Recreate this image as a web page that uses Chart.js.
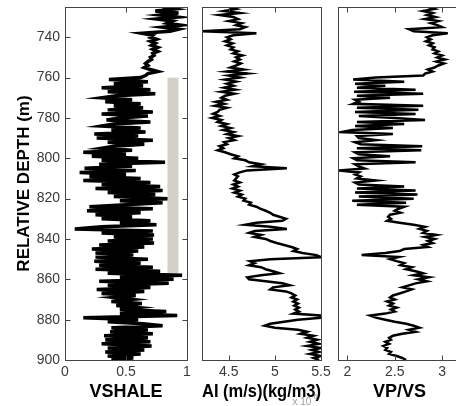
<!DOCTYPE html>
<html><head><meta charset="utf-8">
<script src="https://cdn.jsdelivr.net/npm/chart.js@4"></script>
<style>
html,body{margin:0;padding:0;background:#fff;width:456px;height:406px;overflow:hidden;}
canvas{position:absolute;left:0;top:0;}
</style></head><body>
<canvas id="c1" width="470" height="406"></canvas>
<canvas id="c2" width="470" height="406"></canvas>
<canvas id="c3" width="470" height="406"></canvas>
<script>
// ---- data ----
const DEPTH_TICKS = [740, 760, 780, 800, 820, 840, 860, 880, 900];
const VSHALE_TICKS = [0, 0.5, 1];
const AI_TICKS = [4.5, 5, 5.5];
const VPVS_TICKS = [2, 2.5, 3];
// sampling depths (m), 1 m step from 725 to 900
const DEPTHS = Array.from({length: 176}, (_, i) => 725 + i);

const VSHALE = [
  0.80,0.90,0.74,0.93,0.78,0.92,0.75,0.88,0.84,0.95,
  0.80,0.93,0.86,0.63,0.72,0.70,0.75,0.70,0.74,0.71,
  0.76,0.72,0.76,0.72,0.73,0.70,0.71,0.68,0.66,0.68,
  0.65,0.70,0.76,0.68,0.66,0.62,0.36,0.68,0.40,0.64,
  0.30,0.70,0.35,0.74,0.42,0.30,0.55,0.33,0.62,0.40,
  0.64,0.35,0.72,0.30,0.68,0.45,0.34,0.70,0.40,0.30,
  0.62,0.38,0.66,0.24,0.60,0.26,0.72,0.35,0.65,0.40,
  0.30,0.55,0.15,0.50,0.22,0.60,0.30,0.82,0.28,0.55,
  0.16,0.58,0.12,0.50,0.20,0.62,0.15,0.70,0.30,0.78,
  0.25,0.80,0.35,0.74,0.40,0.84,0.45,0.80,0.50,0.20,
  0.72,0.18,0.62,0.25,0.55,0.30,0.70,0.45,0.75,0.30,
  0.08,0.72,0.30,0.73,0.40,0.72,0.35,0.73,0.28,0.65,
  0.22,0.60,0.25,0.56,0.25,0.68,0.24,0.62,0.28,0.72,
  0.25,0.78,0.35,0.96,0.45,0.89,0.28,0.85,0.35,0.70,
  0.26,0.65,0.30,0.58,0.40,0.55,0.38,0.63,0.42,0.60,
  0.45,0.83,0.45,0.92,0.15,0.60,0.35,0.64,0.80,0.38,
  0.68,0.37,0.72,0.32,0.68,0.33,0.70,0.30,0.71,0.35,
  0.65,0.33,0.62,0.35,0.56,0.38
];

// acoustic impedance, x 10^6
const AI = [
  4.50,4.58,4.45,4.62,4.40,4.55,4.60,4.50,4.64,4.58,
  4.68,4.62,4.21,4.80,4.55,4.48,4.52,4.46,4.54,4.48,
  4.55,4.52,4.60,4.55,4.65,4.58,4.62,4.56,4.63,4.58,
  4.52,4.66,4.48,4.70,4.50,4.62,4.46,4.58,4.48,4.55,
  4.45,4.57,4.42,4.56,4.46,4.42,4.48,4.36,4.45,4.35,
  4.48,4.40,4.38,4.33,4.40,4.32,4.42,4.38,4.48,4.42,
  4.52,4.44,4.55,4.48,4.60,4.50,4.56,4.45,4.48,4.40,
  4.44,4.38,4.46,4.52,4.60,4.56,4.68,4.72,4.85,4.76,
  5.13,4.70,4.62,4.56,4.60,4.58,4.56,4.62,4.55,4.60,
  4.54,4.62,4.56,4.64,4.60,4.68,4.66,4.74,4.72,4.80,
  4.84,4.90,4.95,4.98,5.05,5.12,5.08,4.80,4.68,4.95,
  5.13,4.78,4.72,4.85,4.78,4.90,4.95,5.02,5.10,5.18,
  5.24,5.20,5.30,5.45,5.50,4.95,4.73,4.78,4.72,4.85,
  4.90,4.98,5.05,4.85,4.70,4.72,4.90,5.08,5.16,4.98,
  4.95,5.12,5.18,5.22,5.18,5.24,5.20,5.25,5.21,5.26,
  5.22,5.26,5.20,5.50,5.50,5.25,5.10,4.95,4.89,5.00,
  5.25,5.35,5.28,5.42,5.35,5.46,5.38,5.48,5.35,5.50,
  5.40,5.48,5.38,5.50,5.42,5.48
];

const VPVS = [
  2.85,2.92,2.80,2.90,2.84,2.93,2.82,2.96,2.88,2.95,
  3.00,2.65,2.70,3.06,2.90,2.84,2.88,2.83,2.90,2.86,
  2.92,2.90,2.96,2.92,3.00,2.95,3.03,2.94,3.02,2.96,
  2.92,2.85,2.90,2.82,2.80,2.30,2.06,2.60,2.08,2.40,
  2.10,2.72,2.07,2.80,2.10,2.45,2.08,2.12,2.06,2.80,
  2.10,2.75,2.08,2.72,2.12,2.50,2.82,2.10,2.60,2.08,
  2.48,2.05,1.94,2.48,2.10,2.12,2.30,2.08,2.14,2.79,
  2.10,2.78,2.08,2.12,2.45,2.06,2.10,2.72,2.08,2.12,
  2.18,1.91,2.12,2.08,2.14,2.10,2.30,2.08,2.12,2.60,
  2.10,2.72,2.08,2.74,2.12,2.70,2.05,2.62,2.10,2.60,
  2.54,2.50,2.56,2.45,2.43,2.46,2.42,2.55,2.70,2.82,
  2.76,2.84,2.80,2.94,2.82,2.92,2.85,2.90,2.80,2.85,
  2.60,2.55,2.40,2.15,2.54,2.45,2.52,2.60,2.56,2.68,
  2.62,2.72,2.80,2.70,2.86,2.75,2.84,2.72,2.65,2.58,
  2.68,2.62,2.55,2.48,2.45,2.50,2.42,2.48,2.44,2.52,
  2.46,2.50,2.40,2.24,2.30,2.40,2.50,2.62,2.70,2.76,
  2.65,2.72,2.58,2.48,2.44,2.46,2.40,2.44,2.38,2.42,
  2.40,2.46,2.44,2.52,2.58,2.62
];

// shale interval marker (depth range and VSHALE range)
const SHALE_DEPTHS = [760, 857];
const SHALE_X = [0.84, 0.93];

// ---- rendering ----
const FONT = "'Liberation Sans', Arial, Helvetica, sans-serif";

const framePlugin = {
  id: 'frame',
  beforeDraw(chart, args, o) {
    if (o.exponent) {
      const ctx = chart.ctx, x = chart.scales.x;
      ctx.save();
      ctx.fillStyle = '#a0a0a0';
      ctx.font = '10px ' + FONT;
      ctx.textBaseline = 'alphabetic';
      ctx.fillText('x 10', x.getPixelForValue(5.19), 405);
      ctx.font = '7px ' + FONT;
      ctx.fillText('6', x.getPixelForValue(5.19) + 21, 399);
      ctx.restore();
    }
  },
  beforeDatasetsDraw(chart, args, o) {
    if (o.band) {
      const {ctx, scales: {x, y}} = chart;
      const x0 = x.getPixelForValue(o.band.x[0]), x1 = x.getPixelForValue(o.band.x[1]);
      const y0 = y.getPixelForValue(o.band.y[0]), y1 = y.getPixelForValue(o.band.y[1]);
      ctx.save();
      ctx.fillStyle = '#d4d0c8';
      ctx.fillRect(x0, y0, x1 - x0, y1 - y0);
      ctx.restore();
    }
  },
  afterDraw(chart, args, o) {
    const {ctx, chartArea: a, scales: {x, y}} = chart;
    ctx.save();
    ctx.strokeStyle = '#444';
    ctx.lineWidth = 1;
    const L = Math.round(a.left) + 0.5, R = Math.round(a.right) + 0.5;
    const T = Math.round(a.top) + 0.5, B = Math.round(a.bottom) + 0.5;
    ctx.strokeRect(L, T, R - L, B - T);
    const seg = (x1, y1, x2, y2) => { ctx.beginPath(); ctx.moveTo(x1, y1); ctx.lineTo(x2, y2); ctx.stroke(); };
    const tl = 5;
    x.ticks.forEach(t => {
      const px = Math.round(x.getPixelForValue(t.value)) + 0.5;
      seg(px, B, px, B - tl);
      seg(px, T, px, T + tl);
    });
    if (o.yTicks) {
      y.ticks.forEach(t => {
        const py = Math.round(y.getPixelForValue(t.value)) + 0.5;
        seg(L, py, L + tl, py);
        seg(R, py, R - tl, py);
      });
    }
    ctx.restore();
  }
};

function makeChart(id, values, cfg) {
  const pts = DEPTHS.map((d, i) => ({x: values[i], y: d}));
  return new Chart(document.getElementById(id), {
    type: 'scatter',
    data: {datasets: [{
      data: pts, showLine: true, pointRadius: 0, borderColor: '#000',
      borderWidth: cfg.lw, tension: 0, fill: false, borderJoinStyle: 'miter'
    }]},
    plugins: [framePlugin],
    options: {
      responsive: false, animation: false, devicePixelRatio: 1,
      layout: {padding: {left: cfg.padL, right: cfg.padR, top: 7, bottom: 0}},
      plugins: {
        legend: {display: false}, tooltip: {enabled: false},
        frame: {yTicks: cfg.showY, band: cfg.band, exponent: cfg.exponent}
      },
      scales: {
        x: {
          type: 'linear', position: 'bottom', min: cfg.min, max: cfg.max,
          afterBuildTicks: s => { s.ticks = cfg.ticks.map(v => ({value: v})); },
          afterFit: s => { s.height = 46; s.paddingLeft = 0; s.paddingRight = 0; },
          grid: {display: false, drawTicks: false}, border: {display: false},
          ticks: {font: {family: FONT, size: 14}, color: '#3a3a3a', padding: 4,
                  maxRotation: 0, autoSkip: false, callback: v => String(v)},
          title: {display: true, text: cfg.title, color: '#000',
                  font: {family: FONT, size: 18, weight: 'bold'}, padding: {top: 0, bottom: 3}}
        },
        y: {
          type: 'linear', position: 'left', reverse: true, min: 725, max: 900,
          display: cfg.showY,
          afterBuildTicks: s => { s.ticks = DEPTH_TICKS.map(v => ({value: v})); },
          afterFit: s => { s.width = cfg.showY ? 65 : 0; s.paddingTop = 0; s.paddingBottom = 0; },
          grid: {display: false, drawTicks: false}, border: {display: false},
          ticks: {font: {family: FONT, size: 14}, color: '#3a3a3a', padding: 5,
                  autoSkip: false, callback: v => String(v)},
          title: {display: true, text: 'RELATIVE DEPTH (m)', color: '#000',
                  font: {family: FONT, size: 17, weight: 'bold'}, padding: {top: 14, bottom: 0}}
        }
      }
    }
  });
}

makeChart('c1', VSHALE, {min: 0, max: 1, ticks: VSHALE_TICKS, title: 'VSHALE',
  showY: true, padL: 0, padR: 470 - 187, lw: 3.5,
  band: {x: SHALE_X, y: SHALE_DEPTHS}});
makeChart('c2', AI, {min: 4.21, max: 5.5, ticks: AI_TICKS, title: 'AI (m/s)(kg/m3)',
  showY: false, padL: 202, padR: 470 - 321, lw: 2.5, exponent: true});
makeChart('c3', VPVS, {min: 1.9, max: 3.2, ticks: VPVS_TICKS, title: 'VP/VS',
  showY: false, padL: 338, padR: 470 - 461, lw: 2.5});
</script>
</body></html>
